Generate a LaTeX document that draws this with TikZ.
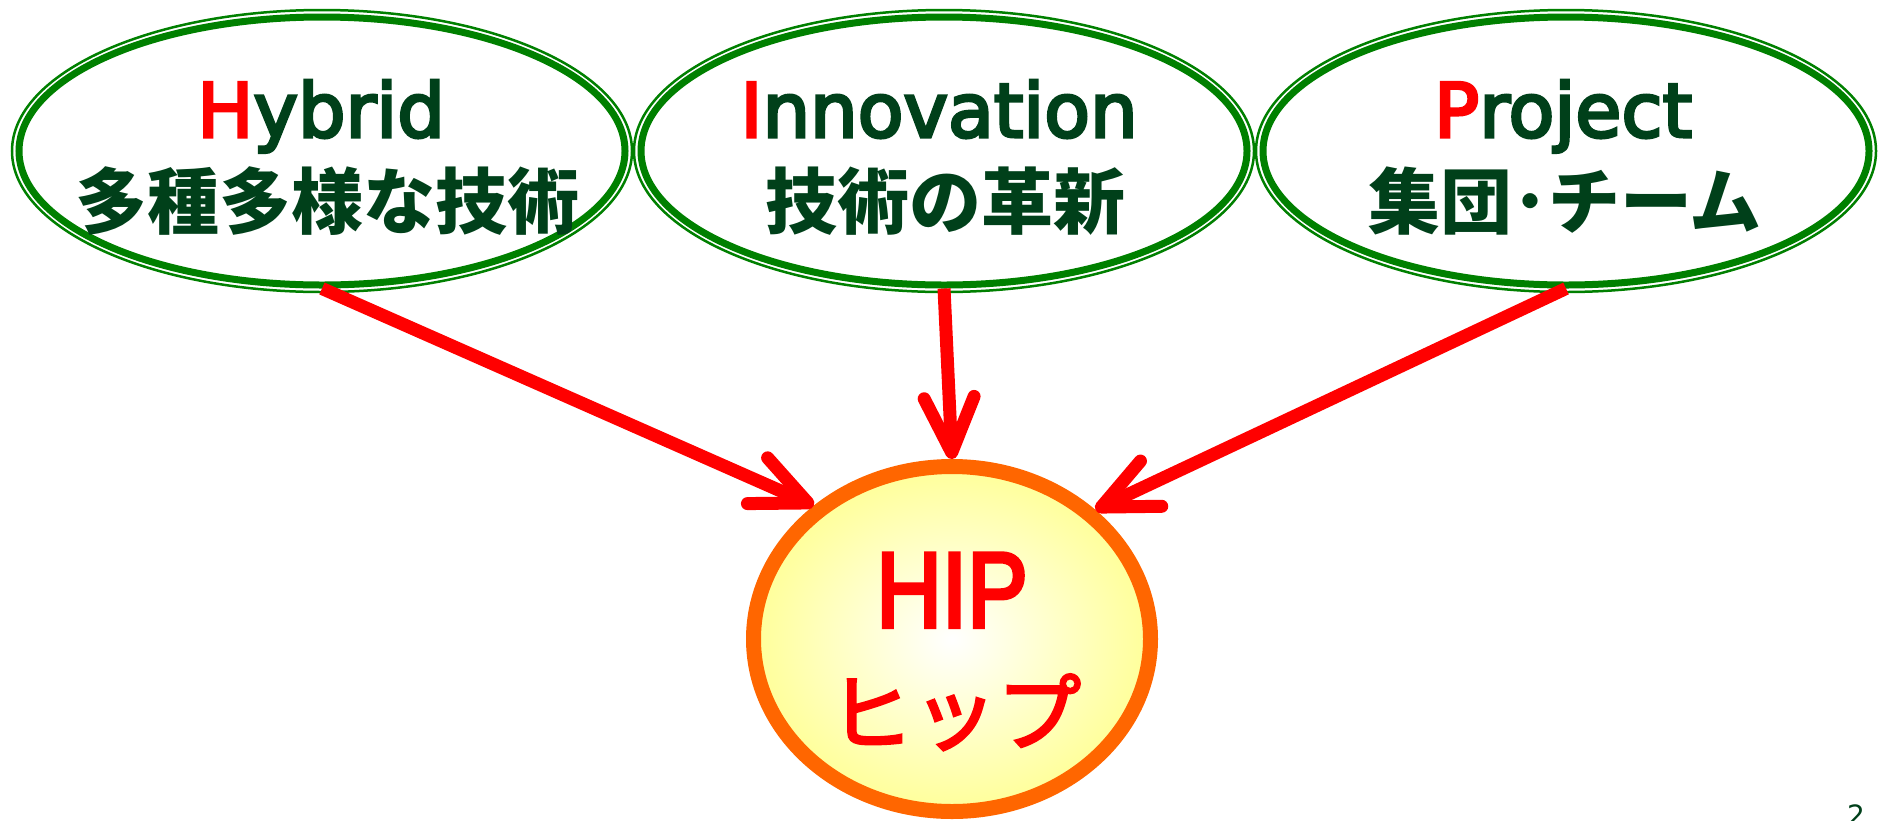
\documentclass[tikz,border=0pt]{standalone}
\usepackage{fontspec}
\usepackage{graphicx}
\usetikzlibrary{shapes.geometric,arrows.meta}
\newfontfamily\latinf{DejaVu Sans}[FakeBold=4]
\newfontfamily\latinp{DejaVu Sans}
\newfontfamily\hipf{Liberation Sans}[FakeBold=4]
\newfontfamily\cjk{Noto Sans CJK JP}
\newfontfamily\cjkm{Noto Sans CJK JP}[FakeBold=3]
\definecolor{ringgreen}{RGB}{0,128,0}
\definecolor{txtgreen}{RGB}{0,64,26}
\definecolor{hiporange}{RGB}{255,102,0}
\definecolor{hipyellow}{RGB}{255,255,153}
\definecolor{arrred}{RGB}{255,0,0}
\tikzset{
  ring/.style={ellipse, draw=ringgreen, line width=7pt, minimum width=606pt, minimum height=268pt, inner sep=0pt},
  outerring/.style={draw=ringgreen, line width=2.5pt},
  entxt/.style={anchor=base, text=txtgreen, inner sep=0pt, font=\latinf\fontsize{75pt}{75pt}\selectfont},
  jptxt/.style={anchor=base, text=txtgreen, inner sep=0pt, font=\cjk\bfseries\fontsize{72pt}{72pt}\selectfont},
  hipnode/.style={ellipse, draw=hiporange, line width=15pt, inner color=white, outer color=hipyellow, minimum width=397pt, minimum height=345pt, inner sep=0pt},
  hiptxt/.style={anchor=base, text=arrred, inner sep=0pt},
  link/.style={draw=arrred, line width=13pt, -{Straight Barb[length=55pt,width=50pt,round]}}
}
\begin{document}
\begin{tikzpicture}[x=1pt,y=-1pt]
\useasboundingbox (0,0) rectangle (1881,820);
% top ellipses
\node[ring] (h) at (322,151) {};
\node[ring] (i) at (944,151) {};
\node[ring] (p) at (1566,151) {};
\draw[outerring] (h.center) ellipse [x radius=310pt, y radius=141pt];
\draw[outerring] (i.center) ellipse [x radius=310pt, y radius=141pt];
\draw[outerring] (p.center) ellipse [x radius=310pt, y radius=141pt];
% texts
\node[entxt] (ht) at (321,137) {\textcolor{arrred}{H}ybrid};
\node[jptxt] (hj) at (327,228) {多種多様な技術};
\node[entxt] (it) at (939,137) {\textcolor{arrred}{I}nnovation};
\node[jptxt] (ij) at (945,228) {技術の革新};
\node[entxt] (pt) at (1563,137) {\textcolor{arrred}{P}roject};
\node[jptxt] (pj) at (1565,228) {集団･チーム};
% HIP
\node[hipnode] (hip) at (952,639) {};
\node[hiptxt, font=\hipf\fontsize{107pt}{107pt}\selectfont] (hipt) at (952,627) {\scalebox{0.85}[1]{HIP}};
\node[hiptxt, font=\cjkm\fontsize{84pt}{84pt}\selectfont] (hipj) at (955,744) {ヒップ};
% arrows
\draw[link] (h.south) -- (hip.136.4);
\draw[link] (i.south) -- (hip.90);
\draw[link] (p.south) -- (hip.42.3);
% page number
\node[anchor=north, text=txtgreen, inner sep=0pt, font=\latinp\fontsize{28pt}{28pt}\selectfont] (pg) at (1856,805) {2};
\end{tikzpicture}
\end{document}
